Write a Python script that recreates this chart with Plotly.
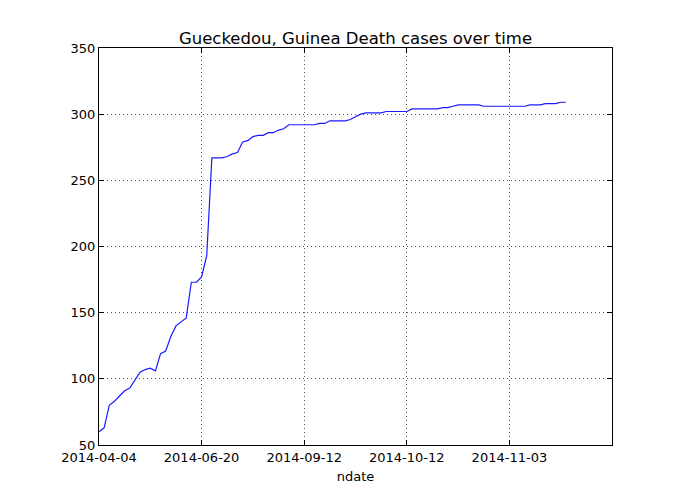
import plotly.graph_objects as go

# Cumulative death counts, one value per report (index on the x axis)
deaths = [
    60, 63, 80, 83, 87, 91, 93, 99, 105, 107,
    108, 106, 119, 121, 132, 140, 143, 146, 173, 173,
    177, 193, 267, 267, 267, 268, 270, 271, 279, 280,
    283, 284, 284, 286, 286, 288, 289, 292, 292, 292,
    292, 292, 292, 293, 293, 295, 295, 295, 295, 296,
    298, 300, 301, 301, 301, 301, 302, 302, 302, 302,
    302, 304, 304, 304, 304, 304, 304, 305, 305, 306,
    307, 307, 307, 307, 307, 306, 306, 306, 306, 306,
    306, 306, 306, 306, 307, 307, 307, 308, 308, 308,
    309, 309,
]
report_index = list(range(len(deaths)))

# x tick labels (dates of the reports at those positions)
tick_pos = [0, 20, 40, 60, 80]
tick_dates = ["2014-04-04", "2014-06-20", "2014-09-12", "2014-10-12", "2014-11-03"]

fig = go.Figure(go.Scatter(
    x=report_index,
    y=deaths,
    mode="lines",
    line=dict(color="#1a1aff", width=1.2),
    showlegend=False,
))

axis_style = dict(
    showline=True,
    linecolor="black",
    linewidth=1,
    mirror="ticks",
    ticks="inside",
    ticklen=5,
    tickcolor="black",
    showgrid=True,
    gridcolor="#555555",
    griddash="1px,3px",
    gridwidth=1,
    zeroline=False,
    tickfont=dict(family="DejaVu Sans", size=13, color="black"),
)

fig.update_xaxes(
    range=[0, 100],
    tickmode="array",
    tickvals=tick_pos,
    ticktext=tick_dates,
    title=dict(text="ndate", font=dict(family="DejaVu Sans", size=13, color="black"), standoff=8),
    **axis_style,
)
fig.update_yaxes(
    range=[50, 350],
    tickmode="array",
    tickvals=[50, 100, 150, 200, 250, 300, 350],
    **axis_style,
)

# the page adds an 8px body margin, so the margins are shifted by that
fig.update_layout(
    width=695,
    height=494,
    paper_bgcolor="white",
    plot_bgcolor="white",
    title=dict(
        text="Gueckedou, Guinea Death cases over time",
        font=dict(family="DejaVu Sans", size=16.5, color="black"),
        x=(91 + 604) / 2 / 695,
        xanchor="center",
        y=1 - 30 / 494,
        yanchor="middle",
    ),
    margin=dict(l=91, r=91, t=40, b=57),
)

fig.write_html("out.html")
